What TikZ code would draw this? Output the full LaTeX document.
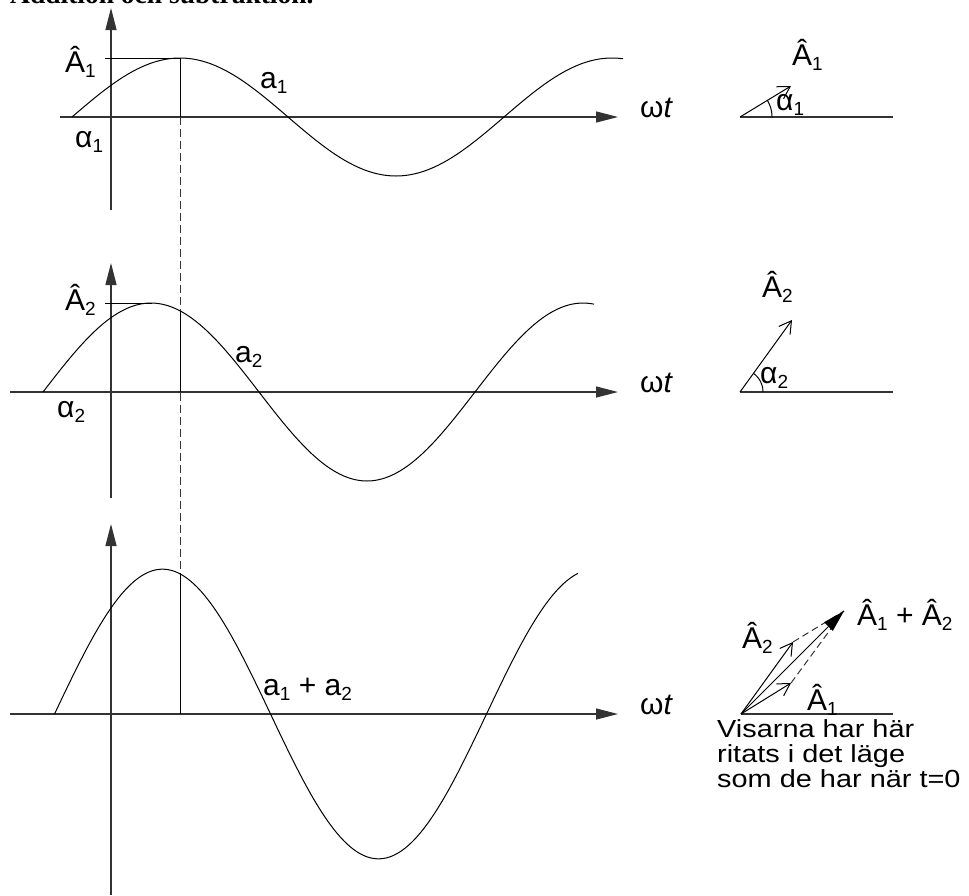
\documentclass[tikz,border=0pt]{standalone}
\usepackage{fontspec}
\setmainfont{Liberation Sans}
\newfontfamily\headfont{Liberation Serif}
\newfontfamily\notefont[FakeStretch=1.17]{Liberation Sans}
\usetikzlibrary{arrows.meta, positioning}

% lowered index for the labels
\newcommand\idx[1]{\raisebox{-0.17em}{\fontsize{19}{19}\selectfont #1}}

\tikzset{
  axisline/.style={draw=black!80, line width=1.3pt, -{Triangle[length=22pt,width=11pt]}},
  wave/.style={draw=black, line width=1pt, line join=round},
  guide/.style={draw=black, line width=1pt},
  guidedash/.style={draw=black!80, line width=1pt, dash pattern=on 8pt off 4pt},
  refline/.style={draw=black!80, line width=1.2pt},
  vec/.style={draw=black, line width=1pt, -{Straight Barb[length=12pt,width=14pt,line width=1pt]}},
  sumvec/.style={draw=black, line width=1pt, -{Triangle[length=22pt,width=12pt]}},
  lbl/.style={font=\fontsize{30}{32}\selectfont, inner sep=0pt, anchor=base west},
  notetext/.style={font=\notefont\fontsize{24.7}{25}\selectfont, inner sep=0pt,
    anchor=north west, align=left}
}

\begin{document}
\begin{tikzpicture}[x=1pt, y=-1pt]
  \useasboundingbox (0,0) rectangle (969,895);

  % cut-off heading
  \node[font=\headfont\bfseries\fontsize{27.5}{28}\selectfont, inner sep=0pt, anchor=base west]
    (head) at (10,3) {Addition och subtraktion.};

  % ── Plot 1 ──
  \coordinate (x1a) at (60,117);  \coordinate (x1b) at (618,117);
  \coordinate (y1a) at (111,210); \coordinate (y1b) at (111,8);
  \draw[axisline] (x1a) -- (x1b);
  \draw[axisline] (y1a) -- (y1b);
  \draw[wave] plot[domain=72:623, samples=120] (\x, {117-59*sin((\x-72)*5/6)});
  \coordinate (pk1) at (180,58);
  \draw[guide] (105,58) -- (pk1) -- (180,117);
  \node[lbl] (A1)  at (65,72)   {Â\idx{1}};
  \node[lbl] (al1) at (75,147)  {α\idx{1}};
  \node[lbl] (a1)  at (260,88)  {a\idx{1}};
  \node[lbl] (wt1) at (640,117) {ω\textit{t}};

  % ── Plot 2 ──
  \coordinate (x2a) at (10,392);  \coordinate (x2b) at (618,392);
  \coordinate (y2a) at (111,498); \coordinate (y2b) at (111,263);
  \draw[axisline] (x2a) -- (x2b);
  \draw[axisline] (y2a) -- (y2b);
  \draw[wave] plot[domain=43:594, samples=120] (\x, {392-89*sin((\x-43)*5/6)});
  \draw[guide] (105,303) -- (152,303);
  \node[lbl] (A2)  at (65,310)  {Â\idx{2}};
  \node[lbl] (al2) at (57,417)  {α\idx{2}};
  \node[lbl] (a2)  at (235,362) {a\idx{2}};
  \node[lbl] (wt2) at (640,392) {ω\textit{t}};

  % ── Plot 3 (sum) ──
  \coordinate (x3a) at (10,714);  \coordinate (x3b) at (618,714);
  \coordinate (y3a) at (111,895); \coordinate (y3b) at (111,524);
  \draw[axisline] (x3a) -- (x3b);
  \draw[axisline] (y3a) -- (y3b);
  \draw[wave] plot[domain=54.5:578, samples=140]
    (\x, {714-59*sin((\x-72)*5/6)-89*sin((\x-43)*5/6)});
  \node[lbl] (a12) at (263,695) {a\idx{1} + a\idx{2}};
  \node[lbl] (wt3) at (640,714) {ω\textit{t}};

  % common time line
  \draw[guidedash] (180,117) -- (180,573);
  \draw[guide] (180,311) -- (180,392);
  \draw[guide] (180,573) -- (180,714);

  % ── Phasor 1 ──
  \coordinate (o1) at (740,117); \coordinate (e1) at (893,117);
  \coordinate (p1) at (791,86);
  \draw[refline] (o1) -- (e1);
  \draw[vec] (o1) -- (p1);
  \draw[guide] plot[domain=0:31, samples=20] ({740+32*cos(\x)}, {117-32*sin(\x)});
  \node[lbl] (vA1) at (792,65)  {Â\idx{1}};
  \node[lbl] (va1) at (776,110) {α\idx{1}};

  % ── Phasor 2 ──
  \coordinate (o2) at (740,392); \coordinate (e2) at (893,392);
  \coordinate (p2) at (792,320);
  \draw[refline] (o2) -- (e2);
  \draw[vec] (o2) -- (p2);
  \draw[guide] plot[domain=0:54, samples=20] ({740+23*cos(\x)}, {392-23*sin(\x)});
  \node[lbl] (vA2) at (762,297) {Â\idx{2}};
  \node[lbl] (va2) at (760,383) {α\idx{2}};

  % ── Phasor sum ──
  \coordinate (o3) at (741,714); \coordinate (e3) at (893,714);
  \coordinate (q1) at (791,683); \coordinate (q2) at (793,642);
  \coordinate (qs) at (844,611);
  \draw[refline] (o3) -- (e3);
  \draw[vec] (o3) -- (q1);
  \draw[vec] (o3) -- (q2);
  \draw[guidedash, dash pattern=on 7pt off 4pt] (q1) -- (qs);
  \draw[guidedash, dash pattern=on 7pt off 4pt] (q2) -- (qs);
  \draw[sumvec] (o3) -- (qs);
  \node[lbl] (sA2) at (742,648) {Â\idx{2}};
  \node[lbl] (sA1) at (807,710) {Â\idx{1}};
  \node[lbl] (sA)  at (857,625) {Â\idx{1} + Â\idx{2}};
  \node[notetext] (note) at (717,719) {Visarna har här\\ritats i det läge\\som de har när t=0};
\end{tikzpicture}
\end{document}
